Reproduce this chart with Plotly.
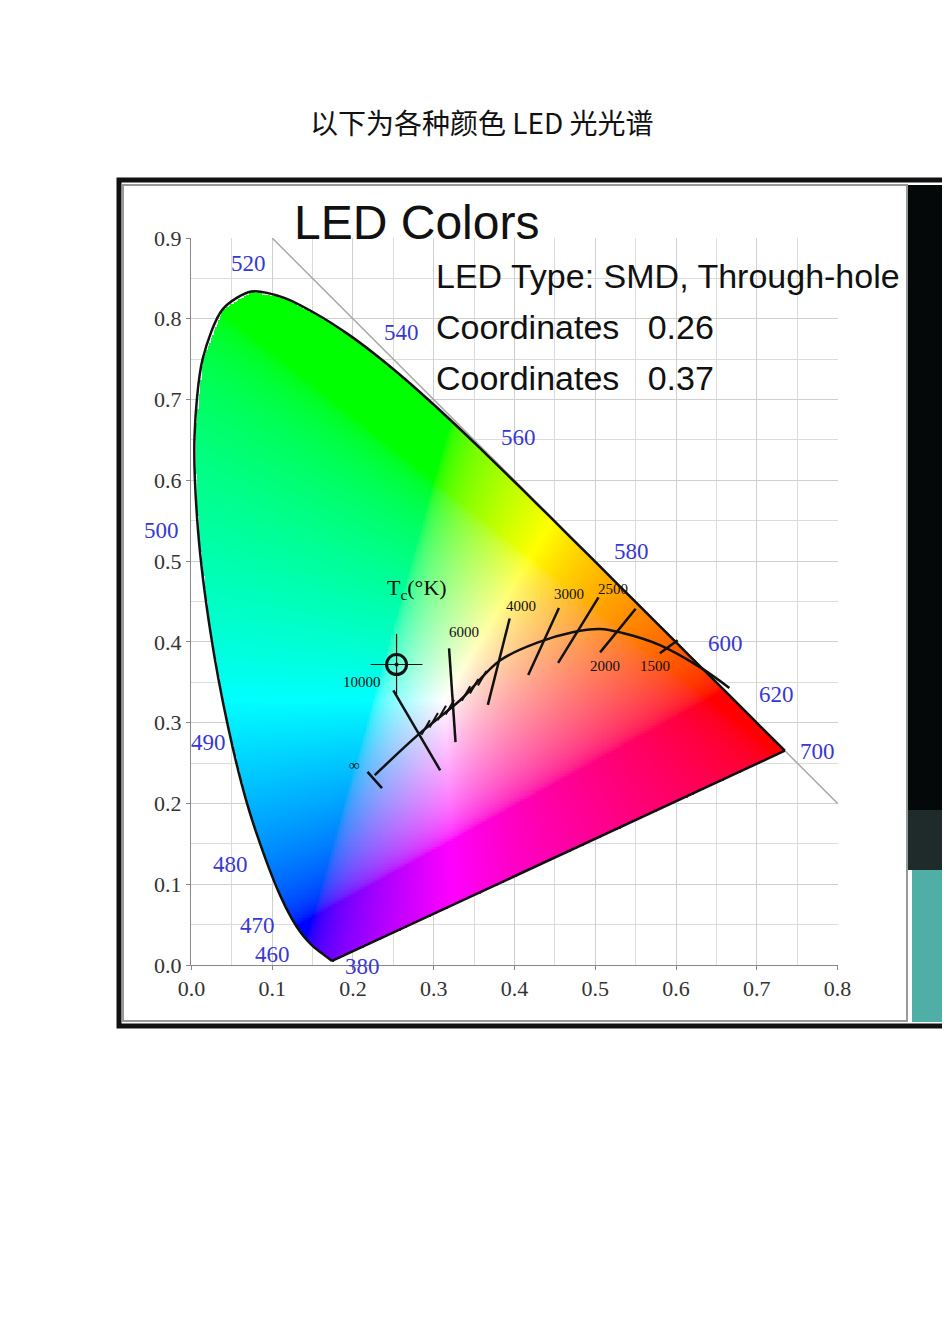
import numpy as np
import plotly.graph_objects as go

title = "以下为各种颜色 LED 光光谱"
# spectral locus (CIE 1931)
loc_x = [0.1741,0.1510,0.1440,0.1355,0.1241,0.1096,0.0913,0.0687,0.0454,0.0235,0.0082,0.0039,0.0139,0.0389,0.0743,0.1142,0.1547,0.1929,0.2296,0.2658,0.3016,0.3373,0.3731,0.4087,0.4441,0.4788,0.5125,0.5448,0.5752,0.6029,0.6270,0.6658,0.6915,0.7190,0.7347]
loc_y = [0.0050,0.0227,0.0297,0.0399,0.0578,0.0868,0.1327,0.2007,0.2950,0.4127,0.5384,0.6548,0.7502,0.8120,0.8338,0.8262,0.8059,0.7816,0.7543,0.7243,0.6923,0.6589,0.6245,0.5896,0.5547,0.5202,0.4866,0.4544,0.4242,0.3965,0.3725,0.3340,0.3083,0.2809,0.2653]
wl_labels = ["520","540","560","580","600","620","700","500","490","480","470","460","380"]
wl_px = [229,382,499,612,706,757,798,142,189,211,238,253,343]
wl_py = [264,332,437,551,643,694,751,530,742,864,925,954,967]
# Planckian locus
pl_x = [0.227,0.283,0.333,0.382,0.431,0.472,0.506,0.534,0.580,0.629,0.666]
pl_y = [0.235,0.287,0.328,0.377,0.400,0.412,0.416,0.411,0.396,0.369,0.343]
iso_x = [[0.394,0.367],[0.319,0.327],[0.455,0.417],[0.504,0.454],[0.550,0.506],[0.602,0.580],[0.250,0.308],[0.218,0.236]]
iso_y = [[0.429,0.322],[0.392,0.276],[0.442,0.359],[0.455,0.374],[0.441,0.387],[0.402,0.386],[0.340,0.241],[0.239,0.219]]
tick_x = [0.290,0.300,0.310,0.320,0.340,0.350,0.360]
tick_y = [0.294,0.303,0.312,0.319,0.336,0.345,0.355]
t_labels = ["4000","3000","2500","6000","10000","2000","1500","∞"]
t_lx = [0.387,0.446,0.501,0.317,0.185,0.491,0.553,0.193]
t_ly = [0.444,0.459,0.466,0.412,0.350,0.370,0.370,0.248]

fig = go.Figure()

nx, ny = 400, 450
gx = np.linspace(0, 0.75, nx); gy = np.linspace(0, 0.86, ny)
X, Y = np.meshgrid(gx, gy)
px_, py_ = np.array(loc_x + [loc_x[0]]), np.array(loc_y + [loc_y[0]])
inside = np.zeros_like(X, dtype=bool)
for i in range(len(px_) - 1):
    x1, y1, x2, y2 = px_[i], py_[i], px_[i+1], py_[i+1]
    cond = ((y1 > Y) != (y2 > Y))
    xi = x1 + (Y - y1) * (x2 - x1) / (y2 - y1 + 1e-12)
    inside ^= cond & (X < xi)
yy = np.maximum(Y, 1e-4)
XX = X / yy; ZZ = (1 - X - Y) / yy
R = 3.2406*XX - 1.5372 - 0.4986*ZZ
G = -0.9689*XX + 1.8758 + 0.0415*ZZ
B = 0.0557*XX - 0.2040 + 1.0570*ZZ
rgb = np.stack([R, G, B], -1)
rgb = np.clip(rgb, 0, None)
rgb = rgb / np.maximum(rgb.max(-1, keepdims=True), 1e-6)
rgb = np.where(rgb <= 0.0031308, 12.92*rgb, 1.055*np.power(rgb, 1/2.4) - 0.055)
rgba = np.concatenate([rgb*255, inside[..., None].astype(float)], -1)
fig.add_trace(go.Image(z=rgba, colormodel="rgba", x0=0, dx=gx[1]-gx[0], y0=0, dy=gy[1]-gy[0], hoverinfo="skip"))

fig.add_trace(go.Scatter(x=[0.1, 0.8], y=[0.9, 0.2], mode="lines", line=dict(color="#aaaaaa", width=1.5), hoverinfo="skip"))
fig.add_trace(go.Scatter(x=loc_x, y=loc_y, mode="lines", line=dict(color="#111", width=2.5, shape="spline", smoothing=0.8), hoverinfo="skip"))
fig.add_trace(go.Scatter(x=[loc_x[-1], loc_x[0]], y=[loc_y[-1], loc_y[0]], mode="lines", line=dict(color="#111", width=2.5), hoverinfo="skip"))
fig.add_trace(go.Scatter(x=pl_x, y=pl_y, mode="lines", line=dict(color="#111", width=2.5, shape="spline"), hoverinfo="skip"))
for xs, ys in zip(iso_x, iso_y):
    fig.add_trace(go.Scatter(x=xs, y=ys, mode="lines", line=dict(color="#111", width=2.5), hoverinfo="skip"))
fig.add_trace(go.Scatter(x=tick_x, y=tick_y, mode="markers", marker=dict(symbol="line-ns", size=12, angle=30, line=dict(color="#111", width=2)), hoverinfo="skip"))
fig.add_trace(go.Scatter(x=[0.254], y=[0.372], mode="markers", marker=dict(symbol="circle-open-dot", size=20, line=dict(color="#111", width=3), color="#111"), hoverinfo="skip"))
fig.add_trace(go.Scatter(x=[0.222, 0.286, None, 0.254, 0.254], y=[0.372, 0.372, None, 0.335, 0.410], mode="lines", line=dict(color="#111", width=1.2), hoverinfo="skip"))

OFF = 8  # page offset
def px(xp): return (xp - OFF - 183) / 647
def py(yp): return (957 + OFF - yp) / 727

for t, x, y in zip(wl_labels, wl_px, wl_py):
    fig.add_annotation(xref="paper", yref="paper", x=px(x), y=py(y), text=t, showarrow=False, xanchor="left", yanchor="middle",
                       font=dict(family="Liberation Serif", size=23, color="#3838d0"))
for t, x, y in zip(t_labels, t_lx, t_ly):
    fig.add_annotation(x=x, y=y, text=t, showarrow=False, xanchor="left", font=dict(family="Liberation Serif", size=15, color="#111"))
fig.add_annotation(x=0.24, y=0.465, text="T<sub>c</sub>(°K)", showarrow=False, xanchor="left", font=dict(family="Liberation Serif", size=22, color="#111"))

shapes = [
    dict(type="rect", xref="paper", yref="paper", x0=px(119), x1=px(952), y0=py(1026), y1=py(180), line=dict(color="#111", width=5), fillcolor="rgba(0,0,0,0)", layer="below"),
    dict(type="rect", xref="paper", yref="paper", x0=px(123), x1=px(907), y0=py(1021), y1=py(185), line=dict(color="#999", width=2), fillcolor="rgba(0,0,0,0)"),
    dict(type="rect", xref="paper", yref="paper", x0=px(908), x1=px(952), y0=py(810), y1=py(185), line=dict(width=0), fillcolor="#050808"),
    dict(type="rect", xref="paper", yref="paper", x0=px(908), x1=px(952), y0=py(870), y1=py(810), line=dict(width=0), fillcolor="#1e2b2a"),
    dict(type="rect", xref="paper", yref="paper", x0=px(912), x1=px(952), y0=py(1022), y1=py(870), line=dict(width=0), fillcolor="#4faea6"),
]
ann = [
    dict(x=px(308), y=py(122), text=title, font=dict(family="Noto Sans CJK SC", size=28, color="#111")),
    dict(x=px(292), y=py(222), text="LED Colors", font=dict(family="Liberation Sans", size=48, color="#111")),
    dict(x=px(434), y=py(276), text="LED Type: SMD, Through-hole", font=dict(family="Liberation Sans", size=34, color="#111")),
    dict(x=px(434), y=py(327), text="Coordinates&nbsp;&nbsp;&nbsp;0.26", font=dict(family="Liberation Sans", size=34, color="#111")),
    dict(x=px(434), y=py(378), text="Coordinates&nbsp;&nbsp;&nbsp;0.37", font=dict(family="Liberation Sans", size=34, color="#111")),
]
for a in ann:
    fig.add_annotation(xref="paper", yref="paper", showarrow=False, xanchor="left", yanchor="middle", **a)

axfont = dict(family="Liberation Serif", size=22, color="#333")
fig.update_layout(
    width=950, height=1344, margin=dict(l=183, r=120, t=230, b=387),
    paper_bgcolor="white", plot_bgcolor="white", showlegend=False, shapes=shapes,
    xaxis=dict(range=[0, 0.8], dtick=0.1, tickformat=".1f", showgrid=True, gridcolor="#cfcfcf",
               minor=dict(dtick=0.05, showgrid=True, gridcolor="#dcdcdc"), zeroline=False,
               showline=True, linecolor="#888", ticks="outside", ticklen=4, tickcolor="#888", tickfont=axfont, constrain="range"),
    yaxis=dict(range=[0, 0.9], dtick=0.1, tickformat=".1f", showgrid=True, gridcolor="#cfcfcf",
               minor=dict(dtick=0.05, showgrid=True, gridcolor="#dcdcdc"), zeroline=False, autorange=False,
               showline=True, linecolor="#888", ticks="outside", ticklen=4, tickcolor="#888", tickfont=axfont, constrain="range"),
)
fig.write_html("out.html")
